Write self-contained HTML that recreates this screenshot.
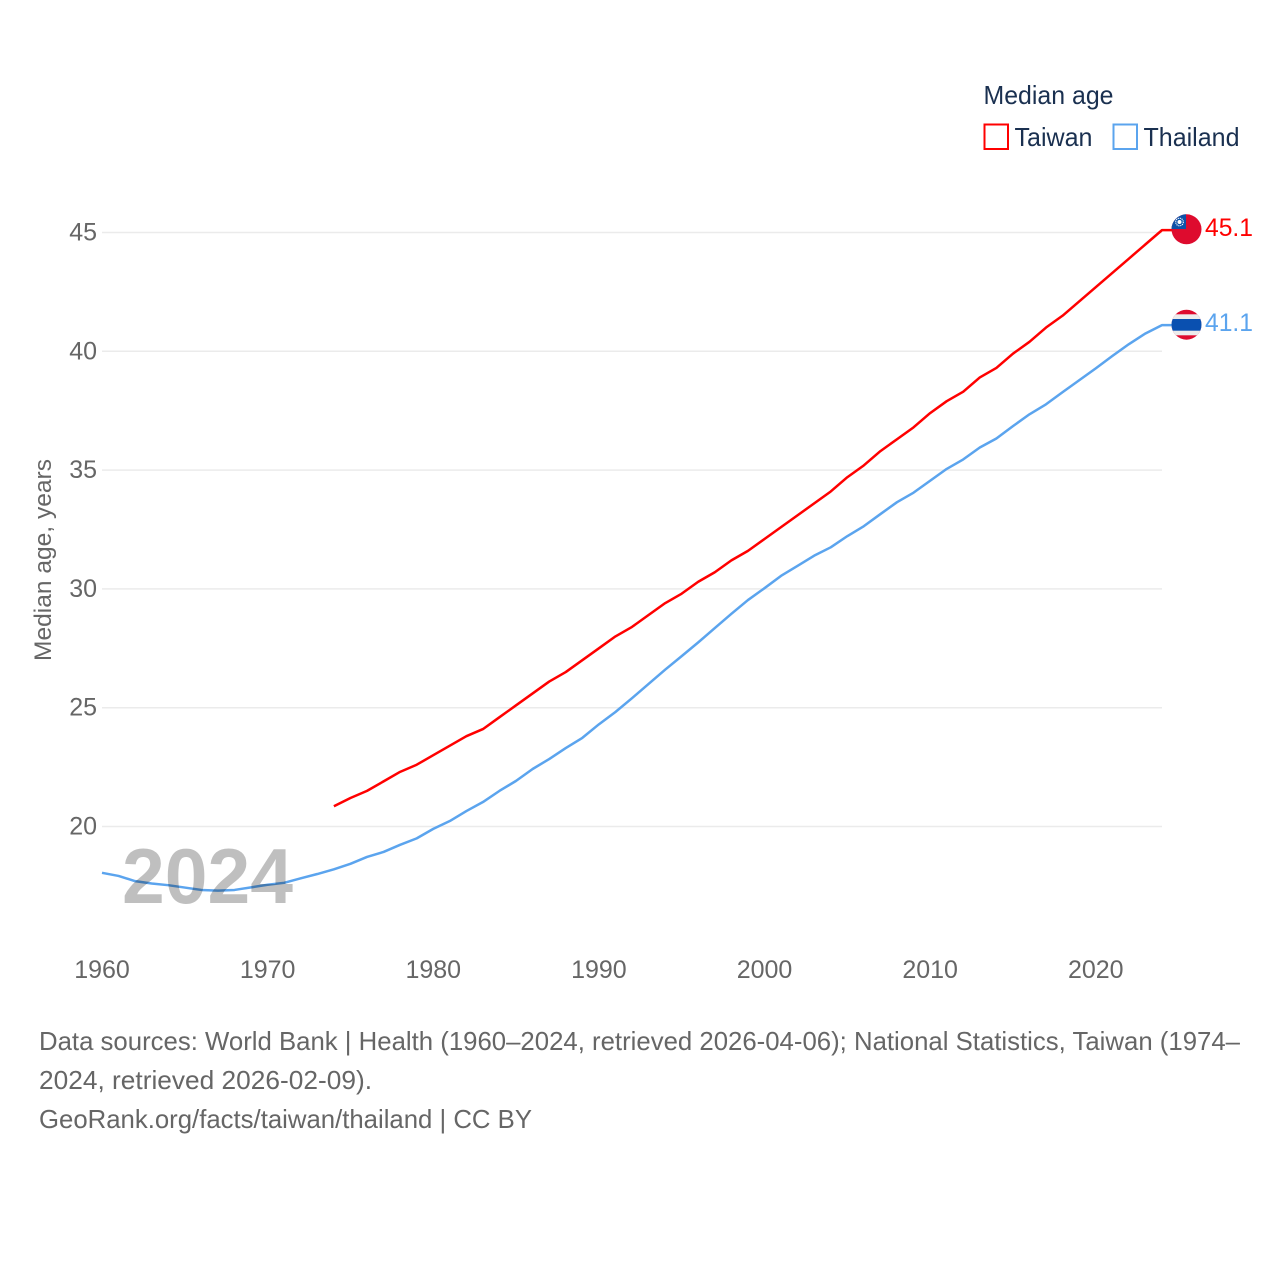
<!DOCTYPE html>
<html lang="en">
<head>
<meta charset="utf-8">
<title>Median age: Taiwan and Thailand</title>
<style>
html,body{margin:0;padding:0;background:#fff;width:1280px;height:1280px;overflow:hidden}
svg{display:block;font-family:"Liberation Sans",sans-serif}
</style>
</head>
<body>
<svg id="chart" xmlns="http://www.w3.org/2000/svg" width="1280" height="1280" viewBox="0 0 1280 1280">
  <defs>
    <clipPath id="flag-clip-tw"><circle cx="1186.500" cy="229.300" r="15"/></clipPath>
    <clipPath id="flag-clip-th"><circle cx="1186.500" cy="324.700" r="15"/></clipPath>
  </defs>
  <g id="grid"></g>
  <g id="ytick-labels"></g>
  <g id="xtick-labels"></g>
  <text transform="translate(51,661) rotate(-90)" font-size="24.5" fill="#666" textLength="202" lengthAdjust="spacingAndGlyphs">Median age, years</text>
  <g id="series"></g>
  <text x="122" y="903" font-size="78" font-weight="700" fill="#000" fill-opacity="0.25" textLength="171" lengthAdjust="spacingAndGlyphs">2024</text>

  <g>
    <text x="983.500" y="104" font-size="26" fill="#1a3050" textLength="130" lengthAdjust="spacingAndGlyphs">Median age</text>
    <g>
      <rect x="984.500" y="124.500" width="23.500" height="24.500" fill="#fff" stroke="#ff0000" stroke-width="2"/>
      <text x="1014.500" y="146" font-size="26" fill="#1a3050" textLength="78" lengthAdjust="spacingAndGlyphs">Taiwan</text>
    </g>
    <g>
      <rect x="1113.500" y="124.500" width="23.500" height="24.500" fill="#fff" stroke="#5ba4ee" stroke-width="2"/>
      <text x="1143.500" y="146" font-size="26" fill="#1a3050" textLength="96" lengthAdjust="spacingAndGlyphs">Thailand</text>
    </g>
  </g>

  <g clip-path="url(#flag-clip-tw)">
    <rect x="1171" y="214" width="31" height="31" fill="#de0b2e"/>
    <rect x="1171" y="214" width="15" height="15" fill="#0d52a8"/>
    <circle cx="1179.500" cy="222" r="3.800" fill="none" stroke="#ffffff" stroke-width="1.100" stroke-dasharray="1.200 0.800"/>
    <circle cx="1179.500" cy="222" r="2" fill="#ffffff"/>
  </g>
  <g clip-path="url(#flag-clip-th)">
    <rect x="1171" y="309" width="31" height="31" fill="#de0b2e"/>
    <rect x="1171" y="314.300" width="31" height="21" fill="#ececec"/>
    <rect x="1171" y="319" width="31" height="11.700" fill="#0a50b0"/>
  </g>
  <g id="value-labels"></g>

  <g font-size="26" fill="#666">
    <text x="39" y="1050" textLength="1201" lengthAdjust="spacingAndGlyphs">Data sources: World Bank | Health (1960–2024, retrieved 2026-04-06); National Statistics, Taiwan (1974–</text>
    <text x="39" y="1089" textLength="333" lengthAdjust="spacingAndGlyphs">2024, retrieved 2026-02-09).</text>
    <text x="39" y="1128" textLength="493" lengthAdjust="spacingAndGlyphs">GeoRank.org/facts/taiwan/thailand | CC BY</text>
  </g>
</svg>
<script>
const yTicks = [20, 25, 30, 35, 40, 45];
const xTicks = [1960, 1970, 1980, 1990, 2000, 2010, 2020];
const taiwanStartYear = 1974;
const taiwanValues = [20.85, 21.2, 21.5, 21.9, 22.3, 22.6, 23.0, 23.4, 23.8, 24.1, 24.6, 25.1, 25.6, 26.1, 26.5, 27.0, 27.5, 28.0, 28.4, 28.9, 29.4, 29.8, 30.3, 30.7, 31.2, 31.6, 32.1, 32.6, 33.1, 33.6, 34.1, 34.7, 35.2, 35.8, 36.3, 36.8, 37.4, 37.9, 38.3, 38.9, 39.3, 39.9, 40.4, 41.0, 41.5, 42.1, 42.7, 43.3, 43.9, 44.5, 45.1];
const thailandStartYear = 1960;
const thailandValues = [18.05, 17.92, 17.7, 17.6, 17.53, 17.43, 17.33, 17.3, 17.33, 17.44, 17.55, 17.63, 17.82, 18.0, 18.2, 18.43, 18.72, 18.93, 19.23, 19.5, 19.9, 20.23, 20.65, 21.03, 21.5, 21.92, 22.42, 22.84, 23.3, 23.73, 24.3, 24.82, 25.4, 26.0, 26.6, 27.17, 27.75, 28.35, 28.95, 29.53, 30.03, 30.55, 30.97, 31.4, 31.75, 32.22, 32.64, 33.15, 33.65, 34.05, 34.55, 35.05, 35.45, 35.95, 36.33, 36.85, 37.35, 37.77, 38.28, 38.78, 39.28, 39.8, 40.3, 40.75, 41.1];
const taiwanEndLabel = "45.1";
const thailandEndLabel = "41.1";

const NS = "http://www.w3.org/2000/svg";
const xScale = function (year) { return 102 + (year - 1960) * (1162 - 102) / 64; };
const yScale = function (v) { return 826.5 - (v - 20) * (826.5 - 232.5) / 25; };

function makeEl(tag, parent) {
  const el = document.createElementNS(NS, tag);
  parent.appendChild(el);
  return el;
}

const grid = document.getElementById("grid");
const yLabels = document.getElementById("ytick-labels");
const xLabels = document.getElementById("xtick-labels");
const series = document.getElementById("series");
const valueLabels = document.getElementById("value-labels");

yTicks.forEach(function (t) {
  const line = makeEl("line", grid);
  
  
  line.setAttribute("x1", 102);
  line.setAttribute("x2", 1162);
  line.setAttribute("y1", yScale(t));
  line.setAttribute("y2", yScale(t));
  line.setAttribute("stroke", "#ebebeb");
  line.setAttribute("stroke-width", 1.5);

  const label = makeEl("text", yLabels);
  
  
  label.setAttribute("x", 97);
  label.setAttribute("y", yScale(t) + 8);
  label.setAttribute("text-anchor", "end");
  label.setAttribute("font-size", 25);
  label.setAttribute("fill", "#666");
  label.textContent = String(t);
});

xTicks.forEach(function (t) {
  const label = makeEl("text", xLabels);
  
  
  label.setAttribute("x", xScale(t));
  label.setAttribute("y", 978);
  label.setAttribute("text-anchor", "middle");
  label.setAttribute("font-size", 25);
  label.setAttribute("fill", "#666");
  label.textContent = String(t);
});

function pathFor(values, startYear) {
  let d = "";
  values.forEach(function (v, i) {
    d += (i ? "L" : "M") + xScale(startYear + i).toFixed(2) + " " + yScale(v).toFixed(2);
  });
  const last = values[values.length - 1];
  d += "L1172 " + yScale(last).toFixed(2);
  return d;
}

const taiwanLine = makeEl("path", series);


taiwanLine.setAttribute("d", pathFor(taiwanValues, taiwanStartYear));
taiwanLine.setAttribute("fill", "none");
taiwanLine.setAttribute("stroke", "#ff0000");
taiwanLine.setAttribute("stroke-width", 2.5);
taiwanLine.setAttribute("stroke-linejoin", "round");

const thailandLine = makeEl("path", series);


thailandLine.setAttribute("d", pathFor(thailandValues, thailandStartYear));
thailandLine.setAttribute("fill", "none");
thailandLine.setAttribute("stroke", "#5ba4ee");
thailandLine.setAttribute("stroke-width", 2.5);
thailandLine.setAttribute("stroke-linejoin", "round");

const taiwanValueLabel = makeEl("text", valueLabels);


taiwanValueLabel.setAttribute("x", 1205);
taiwanValueLabel.setAttribute("y", yScale(taiwanValues[taiwanValues.length - 1]) + 6);
taiwanValueLabel.setAttribute("font-size", 25);
taiwanValueLabel.setAttribute("fill", "#ff0000");
taiwanValueLabel.setAttribute("textLength", 48);
taiwanValueLabel.setAttribute("lengthAdjust", "spacingAndGlyphs");
taiwanValueLabel.textContent = taiwanEndLabel;

const thailandValueLabel = makeEl("text", valueLabels);


thailandValueLabel.setAttribute("x", 1205);
thailandValueLabel.setAttribute("y", yScale(thailandValues[thailandValues.length - 1]) + 6);
thailandValueLabel.setAttribute("font-size", 25);
thailandValueLabel.setAttribute("fill", "#5ba4ee");
thailandValueLabel.setAttribute("textLength", 48);
thailandValueLabel.setAttribute("lengthAdjust", "spacingAndGlyphs");
thailandValueLabel.textContent = thailandEndLabel;
</script>
</body>
</html>
